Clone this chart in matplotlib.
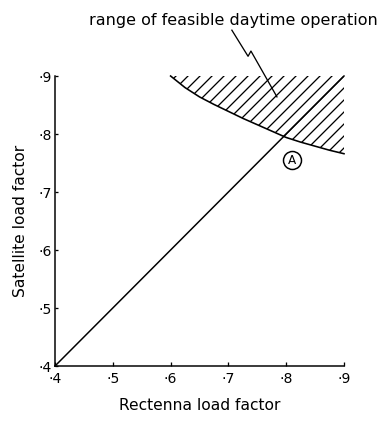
import matplotlib
matplotlib.use("Agg")
import matplotlib.pyplot as plt

# Data
ticks = [0.4, 0.5, 0.6, 0.7, 0.8, 0.9]
tick_labels = ["\u00b74", "\u00b75", "\u00b76", "\u00b77", "\u00b78", "\u00b79"]
line_x = [0.4, 0.9]
line_y = [0.4, 0.9]
curve_x = [0.60, 0.625, 0.65, 0.675, 0.70, 0.725, 0.75, 0.775, 0.80, 0.825, 0.85, 0.875, 0.90]
curve_y = [0.900, 0.880, 0.864, 0.851, 0.839, 0.827, 0.816, 0.805, 0.794, 0.786, 0.779, 0.772, 0.766]
top_y = 0.9
point_A = (0.810, 0.755)
zigzag_x = [0.706, 0.734, 0.739, 0.784]
zigzag_y = [0.979, 0.934, 0.943, 0.864]

plt.rcParams['font.family'] = ['DejaVu Sans']
plt.rcParams['hatch.linewidth'] = 1.3

fig = plt.figure(figsize=(387/72, 428/72), dpi=72)
ax = fig.add_axes([55/387, 1-366/428, (344-55)/387, (366-76)/428])

ax.set_xlim(0.4, 0.9)
ax.set_ylim(0.4, 0.9)

ax.fill_between(curve_x, curve_y, [top_y]*len(curve_x), facecolor='none',
                edgecolor='black', hatch='//', linewidth=0)
ax.plot(curve_x, curve_y, color='black', lw=1.6, clip_on=False)
ax.plot(line_x, line_y, color='black', lw=1.5, clip_on=False)

ax.plot([point_A[0]], [point_A[1]], marker='o', ms=18, mfc='white', mec='black', mew=1.5)
ax.text(point_A[0], point_A[1], 'A', ha='center', va='center', fontsize=12)

ax.plot(zigzag_x, zigzag_y, color='black', lw=1.3, clip_on=False)

for s in ['top', 'right']:
    ax.spines[s].set_visible(False)
for s in ['left', 'bottom']:
    ax.spines[s].set_linewidth(1.5)

ax.set_xticks(ticks)
ax.set_xticklabels(tick_labels, fontsize=14)
ax.set_yticks(ticks)
ax.set_yticklabels(tick_labels, fontsize=14)
ax.tick_params(axis='x', direction='in', length=4, width=1.3, pad=6)
ax.tick_params(axis='y', direction='in', length=3, width=1.3, pad=3)

ax.set_xlabel('Rectenna load factor', fontsize=15.5, labelpad=12)
ax.set_ylabel('Satellite load factor', fontsize=15.5, labelpad=10)

fig.text(233/387, 1-20/428, 'range of feasible daytime operation', ha='center', va='center', fontsize=16)

fig.savefig('out.png', dpi=72)
